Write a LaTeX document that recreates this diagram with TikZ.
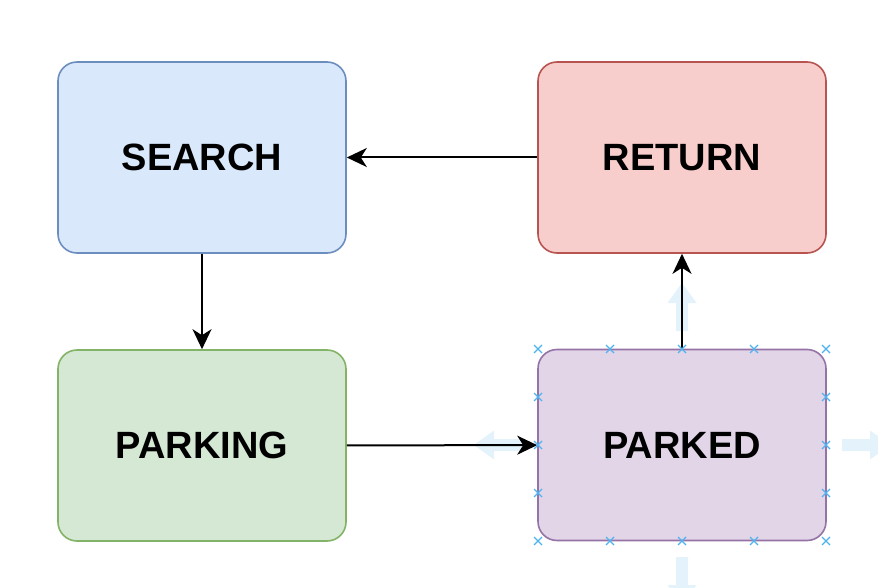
\documentclass[tikz,border=0pt]{standalone}
\usepackage{fontspec}
\setmainfont{Liberation Sans}
\usetikzlibrary{arrows.meta}
\definecolor{blueFill}{HTML}{DAE8FC}
\definecolor{blueLine}{HTML}{6C8EBF}
\definecolor{redFill}{HTML}{F8CECC}
\definecolor{redLine}{HTML}{B85450}
\definecolor{greenFill}{HTML}{D5E8D4}
\definecolor{greenLine}{HTML}{82B366}
\definecolor{purpleFill}{HTML}{E1D5E7}
\definecolor{purpleLine}{HTML}{9673A6}
\definecolor{pinBlue}{HTML}{4FB3F0}
\definecolor{hoverBlue}{HTML}{E3F2FB}

\begin{document}
\begin{tikzpicture}[x=1pt,y=-1pt,
  state/.style={rounded corners=19pt,line width=1.6pt,minimum width=288pt,minimum height=191pt,
    font=\fontsize{38}{40}\selectfont\bfseries,text=black,inner sep=0pt},
  flow/.style={-{Stealth[length=20pt,width=19pt,inset=6pt]},line width=2pt,black},
  hoverarrow/.pic={\fill[hoverBlue] (0,-6) -- (28,-6) -- (28,-14.5) -- (48,0) -- (28,14.5) -- (28,6) -- (0,6) -- cycle;},
  pinmark/.style={draw=pinBlue,line width=1.3pt}]
\useasboundingbox (0,0) rectangle (878,588);
\fill[white] (0,0) rectangle (878,588);

\node[state,draw=blueLine,fill=blueFill] (search) at (202,157.5) {SEARCH};
\node[state,draw=redLine,fill=redFill] (ret) at (682,157.5) {RETURN};
\node[state,draw=greenLine,fill=greenFill] (parking) at (202,445.5) {PARKING};
\node[state,draw=purpleLine,fill=purpleFill] (parked) at (682,445) {PARKED};

% hover arrows round the selected box
\begin{scope}
\clip (0,0) rectangle (878,588);
\pic[rotate=90] at (682,331) {hoverarrow};
\pic[rotate=180] at (522,445) {hoverarrow};
\pic at (842,445) {hoverarrow};
\pic[rotate=-90] at (682,557) {hoverarrow};
\end{scope}

\draw[flow] (ret) -- (search);
\draw[flow] (search) -- (parking);
\draw[flow] (parking) -- (parked);
\draw[flow] (parked) -- (ret);

% connection points
\foreach \px in {538,610,682,754,826}
  \foreach \py in {349,541}
    \draw[pinmark] (\px-4,\py-4) -- (\px+4,\py+4) (\px-4,\py+4) -- (\px+4,\py-4);
\foreach \px in {538,826}
  \foreach \py in {397,445,493}
    \draw[pinmark] (\px-4,\py-4) -- (\px+4,\py+4) (\px-4,\py+4) -- (\px+4,\py-4);
\end{tikzpicture}
\end{document}
